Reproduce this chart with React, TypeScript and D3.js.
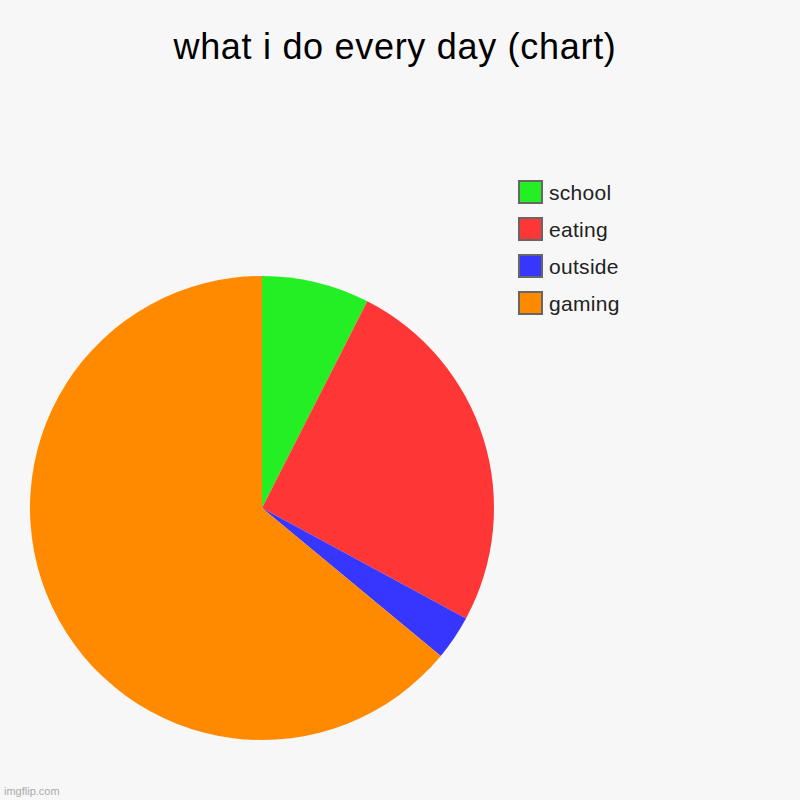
import React, { useEffect, useRef } from 'react';
import * as d3 from 'd3';

const title = 'what i do every day (chart)';
const categories = ['school', 'eating', 'outside', 'gaming'];
const values = [7.5, 25.4, 3.1, 64];
const colors = ['#24ef24', '#ff3636', '#3636ff', '#ff8a00'];

const App: React.FC = () => {
  const chartRef = useRef<SVGSVGElement | null>(null);

  useEffect(() => {
    const svg = d3.select(chartRef.current);
    svg.selectAll('*').remove();

    const width = 800;
    const height = 800;
    const cx = 262;
    const cy = 508;
    const radius = 232;

    svg
      .append('rect')
      .attr('width', width)
      .attr('height', height)
      .attr('fill', '#f7f7f7');

    svg
      .append('text')
      .attr('x', 395)
      .attr('y', 59)
      .attr('text-anchor', 'middle')
      .attr('font-family', 'Arial, "Liberation Sans", sans-serif')
      .attr('font-size', 36)
      .attr('letter-spacing', 0.7)
      .attr('fill', '#000')
      .text(title);

    const data = categories.map((c, i) => ({ key: c, value: values[i], color: colors[i] }));

    const pie = d3
      .pie<{ key: string; value: number; color: string }>()
      .sort(null)
      .value((d) => d.value);

    const arc = d3
      .arc<d3.PieArcDatum<{ key: string; value: number; color: string }>>()
      .innerRadius(0)
      .outerRadius(radius);

    svg
      .append('g')
      .attr('transform', `translate(${cx},${cy})`)
      .selectAll('path')
      .data(pie(data))
      .join('path')
      .attr('d', arc)
      .attr('fill', (d) => d.data.color);

    const legend = svg.append('g').attr('transform', 'translate(519,181)');
    const row = d3.scaleBand().domain(categories).range([0, 148]);

    const items = legend
      .selectAll('g')
      .data(data)
      .join('g')
      .attr('transform', (d) => `translate(0,${row(d.key)})`);

    items
      .append('rect')
      .attr('width', 23)
      .attr('height', 22)
      .attr('fill', (d) => d.color)
      .attr('stroke', '#666')
      .attr('stroke-width', 2);

    items
      .append('text')
      .attr('x', 30)
      .attr('y', 19)
      .attr('font-family', 'Arial, "Liberation Sans", sans-serif')
      .attr('font-size', 21)
      .attr('letter-spacing', 0.3)
      .attr('fill', '#222')
      .text((d) => d.key);

    svg
      .append('text')
      .attr('x', 4)
      .attr('y', 795)
      .attr('font-family', 'Arial, "Liberation Sans", sans-serif')
      .attr('font-size', 11)
      .attr('fill', '#aaa')
      .text('imgflip.com');
  }, []);

  return (
    <svg
      ref={chartRef}
      width={800}
      height={800}
      style={{ position: 'absolute', left: 0, top: 0, display: 'block' }}
    ></svg>
  );
};

export default App;
